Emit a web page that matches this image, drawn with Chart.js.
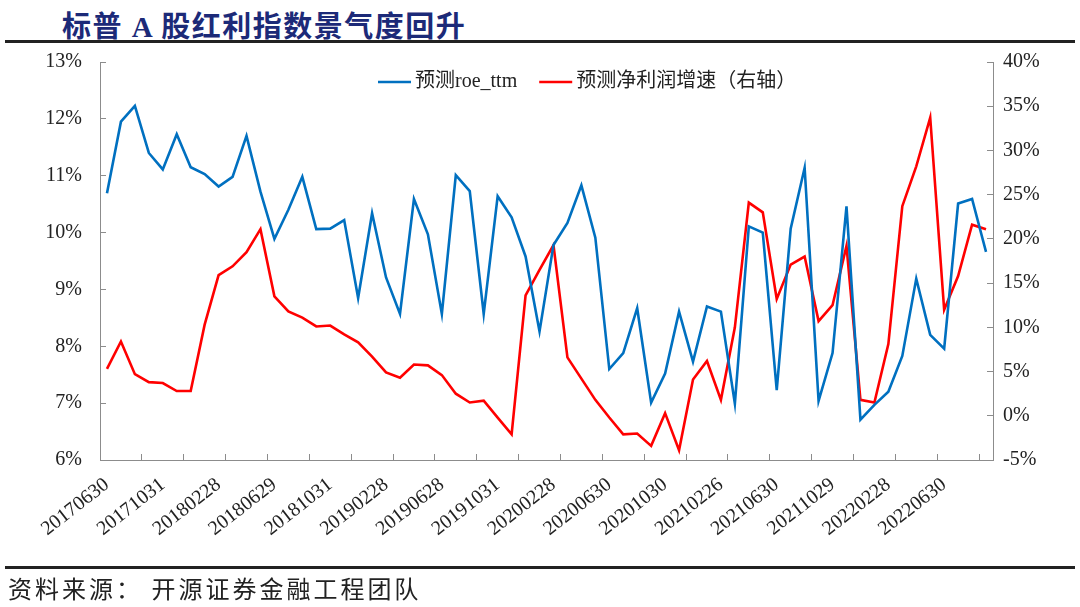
<!DOCTYPE html>
<html>
<head>
<meta charset="utf-8">
<script src="https://cdn.jsdelivr.net/npm/chart.js@4/dist/chart.umd.min.js"></script>
<style>
  html, body { margin: 0; padding: 0; background: #fff; width: 1080px; height: 607px; overflow: hidden; }
  #wrap { position: relative; width: 1080px; height: 607px; }
  #c { position: absolute; left: 0; top: 0; }
  #title { position: absolute; left: 62px; top: 3px; font-family: "Liberation Serif", "Noto Sans CJK SC", serif; font-weight: 700; font-size: 29px; letter-spacing: 1.5px; color: #1c2a78; white-space: nowrap; }
  .rule { position: absolute; left: 5px; width: 1070px; height: 3px; background: #222; }
  #foot { position: absolute; left: 8px; top: 572px; font-family: "Noto Sans CJK SC", sans-serif; font-size: 24px; letter-spacing: 3px; color: #222; white-space: nowrap; line-height: 32px; }
</style>
</head>
<body>
<div id="wrap">
  <div id="title">标普 A 股红利指数景气度回升</div>
  <div class="rule" style="top:40px"></div>
  <canvas id="c" width="1080" height="607"></canvas>
  <div class="rule" style="top:566px"></div>
  <div id="foot">资料来源： 开源证券金融工程团队</div>
</div>
<script>
const dates = [
  '20170630','20170731','20170831','20170929','20171031','20171130','20171229',
  '20180131','20180228','20180330','20180427','20180531','20180629','20180731','20180831','20180928','20181031','20181130','20181228',
  '20190131','20190228','20190329','20190430','20190531','20190628','20190731','20190830','20190930','20191031','20191129','20191231',
  '20200123','20200228','20200331','20200430','20200529','20200630','20200731','20200831','20200930','20201030','20201130','20201231',
  '20210129','20210226','20210331','20210430','20210531','20210630','20210730','20210831','20210930','20211029','20211130','20211231',
  '20220128','20220228','20220331','20220429','20220531','20220630','20220729','20220831','20220930'
];
const roeTtm = [
  10.69,11.95,12.23,11.40,11.11,11.73,11.15,11.03,10.81,10.98,
  11.70,10.72,9.89,10.40,10.98,10.06,10.07,10.22,8.85,10.34,
  9.21,8.57,10.59,9.97,8.57,11.01,10.73,8.57,10.64,10.27,
  9.58,8.26,9.78,10.17,10.83,9.91,7.60,7.88,8.67,7.01,
  7.52,8.61,7.73,8.70,8.61,6.99,10.11,10.00,7.23,10.07,
  11.14,7.04,7.88,10.46,6.71,6.97,7.20,7.83,9.19,8.20,
  7.96,10.51,10.59,9.66
];
const profitGrowth = [
  5.3,8.4,4.7,3.8,3.7,2.8,2.8,10.3,15.9,16.9,
  18.5,21.1,13.5,11.8,11.1,10.1,10.2,9.2,8.3,6.7,
  4.9,4.3,5.8,5.7,4.6,2.5,1.5,1.7,-0.2,-2.1,
  13.6,16.5,19.3,6.6,4.2,1.8,-0.2,-2.1,-2.0,-3.4,
  0.3,-3.9,4.1,6.2,1.8,10.0,24.1,23.0,13.2,17.1,
  18.0,10.7,12.5,19.2,1.8,1.5,8.1,23.7,28.2,33.7,
  12.0,15.8,21.6,21.1
];
const seriesNames = ['预测roe_ttm', '预测净利润增速（右轴）'];
const labelEvery = 4;
const tickEvery = 3;

const tickFont = { family: '"Liberation Serif", "Times New Roman", serif', size: 20 };
const axisColor = '#8c8c8c';
const textColor = '#222';

const insideLegend = {
  id: 'insideLegend',
  afterDraw(chart) {
    const ctx = chart.ctx;
    ctx.save();
    ctx.font = '20px "Liberation Serif", "Noto Sans CJK SC", serif';
    ctx.textBaseline = 'middle';
    let x = 378;
    const y = 82;
    chart.data.datasets.forEach(ds => {
      ctx.strokeStyle = ds.borderColor;
      ctx.lineWidth = 2.5;
      ctx.beginPath();
      ctx.moveTo(x, y);
      ctx.lineTo(x + 33, y);
      ctx.stroke();
      x += 37;
      ctx.fillStyle = textColor;
      ctx.fillText(ds.label, x, y);
      x += ctx.measureText(ds.label).width + 22;
    });
    ctx.restore();
  }
};

new Chart(document.getElementById('c'), {
  type: 'line',
  data: {
    labels: dates,
    datasets: [
      { label: seriesNames[0], data: roeTtm, yAxisID: 'y', borderColor: '#0070C0', borderWidth: 2.6, pointRadius: 0, tension: 0, fill: false },
      { label: seriesNames[1], data: profitGrowth, yAxisID: 'y1', borderColor: '#FF0000', borderWidth: 2.6, pointRadius: 0, tension: 0, fill: false }
    ]
  },
  options: {
    responsive: false,
    animation: false,
    devicePixelRatio: 1,
    layout: { padding: { top: 62, left: 0, right: 0, bottom: 0 } },
    plugins: { legend: { display: false }, tooltip: { enabled: false }, title: { display: false } },
    scales: {
      x: {
        type: 'category',
        offset: true,
        grid: {
          offset: true,
          drawOnChartArea: false,
          drawTicks: true,
          tickLength: -6,
          lineWidth: 1,
          color: ctx => (typeof ctx.index === 'number' && ctx.index % tickEvery === 0) ? axisColor : 'rgba(0,0,0,0)'
        },
        border: { display: true, color: axisColor, width: 1 },
        ticks: {
          autoSkip: false,
          maxRotation: 38,
          minRotation: 38,
          padding: 19,
          labelOffset: 0,
          font: tickFont,
          color: textColor,
          callback: (v, i) => (i % labelEvery === 0 ? dates[i] : '')
        },
        afterFit: s => { s.height = 147; }
      },
      y: {
        position: 'left',
        min: 6, max: 13,
        ticks: { stepSize: 1, padding: 24, font: tickFont, color: textColor, callback: v => v + '%' },
        grid: { drawOnChartArea: false, drawTicks: true, tickLength: -6, color: axisColor },
        border: { display: true, color: axisColor, width: 1 },
        afterFit: s => { s.width = 100; }
      },
      y1: {
        position: 'right',
        min: -5, max: 40,
        ticks: { stepSize: 5, padding: 16, font: tickFont, color: textColor, callback: v => v + '%' },
        grid: { drawOnChartArea: false, drawTicks: true, tickLength: -6, color: axisColor },
        border: { display: true, color: axisColor, width: 1 },
        afterFit: s => { s.width = 87; }
      }
    }
  },
  plugins: [insideLegend]
});
</script>
</body>
</html>
